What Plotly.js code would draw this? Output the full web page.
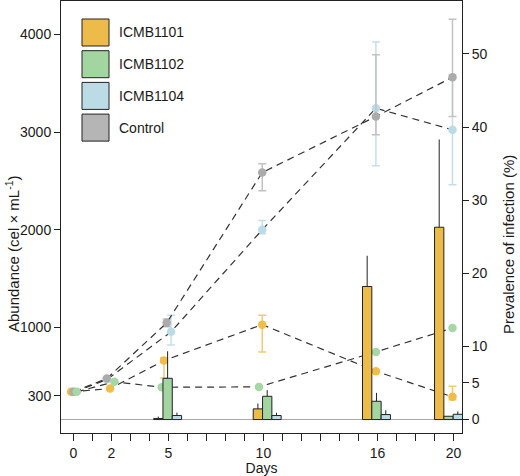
<!DOCTYPE html>
<html><head><meta charset="utf-8">
<script src="https://cdn.plot.ly/plotly-3.0.1.min.js"></script>
<style>html,body{margin:0;padding:0;background:#fff}#chart{width:520px;height:476px}</style>
</head><body><div id="chart"></div>
<script>
// ---- data ----
const dayTicks = [0,1,2,3,4,5,6,7,8,9,10,11,12,13,14,15,16,17,18,19,20];
const labelledDays = [0, 2, 5, 10, 16, 20];
const seriesNames = ["ICMB1101", "ICMB1102", "ICMB1104", "Control"];

// abundance (cells per mL), plotted at slightly jittered days
const x1101 = [-0.12, 1.93, 4.77, 9.94, 15.92, 19.95];
const abund1101 = [342, 376, 662, 1030, 553, 291];
const abund1101Up = [0, 0, 30, 95, 0, 108];
const abund1101Down = [0, 0, 177, 279, 0, 30];

const x1102 = [0.18, 2.16, 4.65, 9.77, 15.92, 19.95];
const abund1102 = [342, 445, 389, 393, 751, 995];

const x1104 = [0.05, 1.78, 5.14, 9.94, 15.92, 19.95];
const abund1104 = [342, 470, 956, 2001, 3245, 3024];
const abund1104Up = [0, 0, 170, 95, 678, 562];
const abund1104Down = [0, 0, 135, 40, 590, 562];

const xControl = [0.0, 1.76, 4.91, 9.94, 15.92, 19.95];
const abundControl = [342, 478, 1048, 2587, 3160, 3562];
const abundControlUp = [0, 0, 40, 89, 631, 593];
const abundControlDown = [0, 0, 40, 187, 187, 403];

// prevalence of infection (%), bar groups
const barDays = [4.96, 10.2, 15.95, 19.74];
const prev1101 = [0.15, 1.46, 18.2, 26.3];
const prev1101Err = [0.25, 0.73, 4.2, 12.0];
const prev1102 = [5.64, 3.18, 2.5, 0.45];
const prev1102Err = [3.7, 0.85, 1.15, 0];
const prev1104 = [0.55, 0.55, 0.68, 0.72];
const prev1104Err = [0.4, 0.37, 0.6, 0.4];

const leftTicks = [300, 1000, 2000, 3000, 4000];
const rightTicks = [0, 5, 10, 20, 30, 40, 50];

// ---- styles ----
const barColors = {ICMB1101: "#EDBB4A", ICMB1102: "#A3D5A1", ICMB1104: "#BCDCE5", Control: "#B5B5B5"};
const ptColors = {ICMB1101: "#F0BE48", ICMB1102: "#A6D8A6", ICMB1104: "#BADCE6", Control: "#ABABAB"};
const errColors = {ICMB1101: "#F1CB6E", ICMB1104: "#C6DFE7", Control: "#C2C2C2"};
const txt = "#1a1a1a";
const FONT = "Liberation Sans, Arial, Helvetica, sans-serif";

function pointTrace(name, xs, ys, up, down) {
  const t = {
    type: "scatter", mode: "lines+markers", x: xs, y: ys, name: name,
    xaxis: "x", yaxis: "y", showlegend: false, cliponaxis: false,
    line: {color: "#333", width: 1.2, dash: "7px,5px"},
    marker: {color: ptColors[name], size: 8.5}
  };
  if (up) {
    t.error_y = {type: "data", symmetric: false, array: up, arrayminus: down,
      color: errColors[name], thickness: 1.5, width: 4};
  }
  return t;
}
const barW = 0.49;
function barTrace(name, vals, err, k) {
  return {
    type: "bar", x: barDays, y: vals, name: name, xaxis: "x", yaxis: "y2",
    width: barW, offset: -1.5 * barW + k * barW, showlegend: false,
    marker: {color: barColors[name], line: {color: "#222", width: 1}},
    error_y: {type: "data", symmetric: false, array: err, arrayminus: vals.map(() => 0),
      color: "#222", thickness: 1, width: 0}
  };
}

const traces = [
  pointTrace("ICMB1101", x1101, abund1101, abund1101Up, abund1101Down),
  pointTrace("ICMB1104", x1104, abund1104, abund1104Up, abund1104Down),
  pointTrace("Control", xControl, abundControl, abundControlUp, abundControlDown),
  pointTrace("ICMB1102", x1102, abund1102, null, null),
  barTrace("ICMB1101", prev1101, prev1101Err, 0),
  barTrace("ICMB1102", prev1102, prev1102Err, 1),
  barTrace("ICMB1104", prev1104, prev1104Err, 2)
];

// legend drawn as paper shapes + annotations
const M = {l: 61, r: 58, t: 1, b: 43};
const PW = 520 - M.l - M.r, PH = 476 - M.t - M.b;
const px2x = p => (p - M.l) / PW;
const py2y = p => (476 - M.b - p) / PH;
const shapes = [], annotations = [];
seriesNames.forEach((n, i) => {
  const top = 19 + i * 31.7;
  shapes.push({type: "rect", xref: "paper", yref: "paper",
    x0: px2x(82), x1: px2x(109), y0: py2y(top + 27), y1: py2y(top),
    fillcolor: barColors[n], line: {color: "#222", width: 1}});
  annotations.push({xref: "paper", yref: "paper", x: px2x(117), y: py2y(top + 13.5),
    xanchor: "left", yanchor: "middle", text: n, showarrow: false,
    font: {size: 14, color: txt, family: FONT}});
});
// axis titles placed as annotations
annotations.push({xref: "paper", yref: "paper", x: px2x(12), y: py2y(254),
  xanchor: "center", yanchor: "middle", textangle: -90, showarrow: false,
  text: "Abundance (cel × mL<sup>-1</sup>)", font: {size: 15, color: txt, family: FONT}});
annotations.push({xref: "paper", yref: "paper", x: px2x(508), y: py2y(245),
  xanchor: "center", yanchor: "middle", textangle: -90, showarrow: false,
  text: "Prevalence of infection (%)", font: {size: 15, color: txt, family: FONT}});

const layout = {
  width: 520, height: 476, margin: M, paper_bgcolor: "#fff", plot_bgcolor: "#fff",
  font: {family: FONT, size: 14, color: txt},
  barmode: "overlay", showlegend: false,
  xaxis: {range: [-0.65, 20.45], tickvals: dayTicks,
    ticktext: dayTicks.map(d => labelledDays.includes(d) ? String(d) : ""),
    ticks: "outside", ticklen: 7, tickcolor: "#222", showgrid: false, zeroline: false,
    showline: true, linecolor: "#222", linewidth: 1, mirror: true,
    tickfont: {size: 14, color: txt},
    title: {text: "Days", font: {size: 14, color: txt}, standoff: 5}},
  yaxis: {range: [-79, 4342], tickvals: leftTicks, ticks: "outside", ticklen: 6,
    tickcolor: "#222", showgrid: false, zeroline: false, showline: true,
    linecolor: "#222", linewidth: 1, tickfont: {size: 14, color: txt}},
  yaxis2: {range: [-1.84, 57.24], overlaying: "y", side: "right", anchor: "x",
    tickvals: rightTicks, ticks: "outside", ticklen: 6, tickcolor: "#222",
    showgrid: false, zeroline: true, zerolinecolor: "#A8A8A8", zerolinewidth: 1,
    showline: true, linecolor: "#222", linewidth: 1, tickfont: {size: 14, color: txt}},
  shapes: shapes, annotations: annotations
};

Plotly.newPlot("chart", traces, layout, {displayModeBar: false, staticPlot: true});
</script>
</body></html>
